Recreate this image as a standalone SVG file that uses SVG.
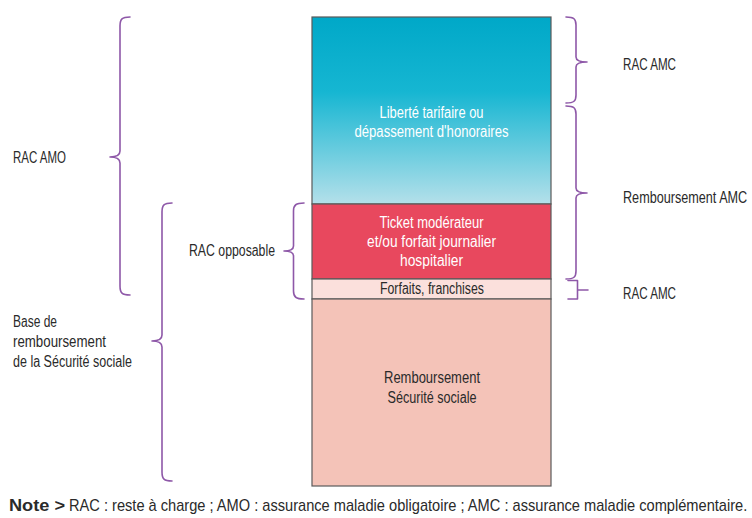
<svg xmlns="http://www.w3.org/2000/svg" width="752" height="518" viewBox="0 0 752 518">
<defs>
<linearGradient id="blueGrad" x1="0" y1="0" x2="0" y2="1">
<stop offset="0" stop-color="#00a8c8"/>
<stop offset="0.4" stop-color="#16b6d2"/>
<stop offset="1" stop-color="#b4e0ea"/>
</linearGradient>
<style>
.t{font-family:"Liberation Sans",Arial,sans-serif;font-size:16px;fill:#2a2a2a;}
.w{fill:#ffffff;}
.c{text-anchor:middle;}
.b{font-weight:bold;}
.brace{fill:none;stroke:#8e58a8;stroke-width:1.6;stroke-linecap:round;stroke-linejoin:round;}
.seg{stroke:#5a5a5a;stroke-width:1.2;}
</style>
</defs>
<rect width="752" height="518" fill="#ffffff"/>

<g id="stack">
<g id="node-liberte">
<rect class="seg" x="312" y="17" width="239" height="187" fill="url(#blueGrad)"/>
<text class="t w c" x="431.5" y="118" textLength="104" lengthAdjust="spacingAndGlyphs">Liberté tarifaire ou</text>
<text class="t w c" x="431.5" y="137" textLength="154" lengthAdjust="spacingAndGlyphs">dépassement d'honoraires</text>
</g>
<g id="node-ticket">
<rect class="seg" x="312" y="204" width="239" height="75" fill="#e8485e"/>
<text class="t w c" x="431.5" y="228" textLength="104" lengthAdjust="spacingAndGlyphs">Ticket modérateur</text>
<text class="t w c" x="431.5" y="247" textLength="129" lengthAdjust="spacingAndGlyphs">et/ou forfait journalier</text>
<text class="t w c" x="431.5" y="266" textLength="63" lengthAdjust="spacingAndGlyphs">hospitalier</text>
</g>
<g id="node-forfaits">
<rect class="seg" x="312" y="279" width="239" height="20" fill="#fbe0dc"/>
<text class="t c" x="432" y="294" textLength="104" lengthAdjust="spacingAndGlyphs">Forfaits, franchises</text>
</g>
<g id="node-secu">
<rect class="seg" x="312" y="299" width="239" height="187" fill="#f4c3b8"/>
<text class="t c" x="432" y="383" textLength="96" lengthAdjust="spacingAndGlyphs">Remboursement</text>
<text class="t c" x="432" y="403" textLength="89" lengthAdjust="spacingAndGlyphs">Sécurité sociale</text>
</g>
</g>

<g id="connectors">
<path class="brace" d="M130,17 C122,17 120,19 120,26 L120,151 C120,155 116,157 110,157 C116,157 120,159 120,163 L120,286 C120,293 122,295 130,295"/>
<path class="brace" d="M172,203 C164,203 162,205 162,212 L162,335 C162,339 158,341 152,341 C158,341 162,343 162,347 L162,472 C162,479 164,481 172,481"/>
<path class="brace" d="M304,203 C296,203 293.5,205 293.5,211 L293.5,246 C293.5,249 290,251 284,251 C290,251 293.5,253 293.5,256 L293.5,291 C293.5,297 296,299 304,299"/>
<path class="brace" d="M566,17 C574,17 576,19 576,25 L576,57 C576,60 580,62 587,62 C580,62 576,64 576,67 L576,95 C576,101 574,103 566,103"/>
<path class="brace" d="M566,106 C574,106 576,108 576,114 L576,188 C576,191 580,193 587,193 C580,193 576,195 576,198 L576,271 C576,277 574,279 566,279"/>
<path class="brace" d="M568,280.5 L577.5,280.5 L577.5,299 L568,299 M577.5,290 L588,290"/>
</g>

<g id="labels">
<text class="t" x="13" y="163" textLength="53" lengthAdjust="spacingAndGlyphs">RAC AMO</text>
<text class="t" x="189" y="256" textLength="86" lengthAdjust="spacingAndGlyphs">RAC opposable</text>
<text class="t" x="13" y="327" textLength="44" lengthAdjust="spacingAndGlyphs">Base de</text>
<text class="t" x="13" y="347" textLength="93" lengthAdjust="spacingAndGlyphs">remboursement</text>
<text class="t" x="13" y="367" textLength="119" lengthAdjust="spacingAndGlyphs">de la Sécurité sociale</text>
<text class="t" x="623" y="70" textLength="53" lengthAdjust="spacingAndGlyphs">RAC AMC</text>
<text class="t" transform="matrix(0.79,0,0,1,623,203)" x="0" y="0">Remboursement AMC</text>
<text class="t" x="623" y="299" textLength="53" lengthAdjust="spacingAndGlyphs">RAC AMC</text>
</g>

<g id="note">
<text class="t b" x="9" y="511" textLength="56" lengthAdjust="spacingAndGlyphs">Note &gt;</text>
<text class="t" transform="matrix(0.85,0,0,1,69,511)" x="0" y="0" textLength="798" lengthAdjust="spacingAndGlyphs">RAC : reste à charge ; AMO : assurance maladie obligatoire ; AMC : assurance maladie complémentaire.</text>
</g>
</svg>
